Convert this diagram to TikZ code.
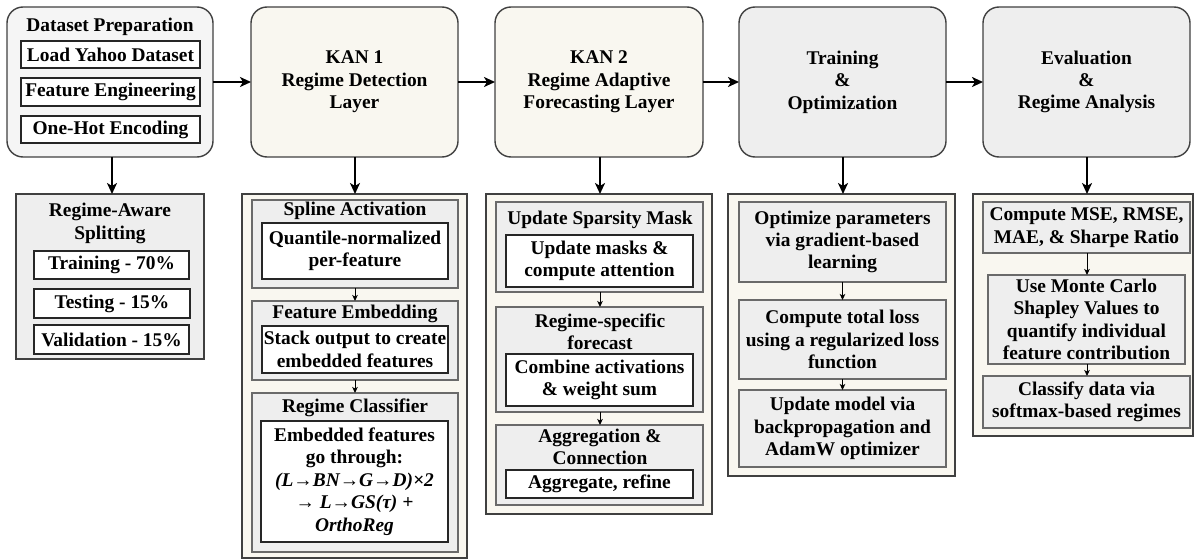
\documentclass[tikz,border=0pt]{standalone}
\usepackage{fontspec}
\setmainfont{Liberation Serif}
\usetikzlibrary{arrows.meta}
\definecolor{cream}{HTML}{F9F7F0}
\definecolor{lgray}{HTML}{EEEEEE}
\definecolor{pgray}{HTML}{F5F5F5}
\definecolor{dgray}{HTML}{404040}
\definecolor{mgray}{HTML}{6A6A6A}
\newcommand\bx[7]{\node[#2, minimum width={#5-#3}, minimum height={#6-#4}] (#1) at ({(#3+#5)/2},{(#4+#6)/2}) {#7};}
\tikzset{
  every node/.style={font=\bfseries\fontsize{19.4}{22.4}\selectfont, align=center, inner sep=0pt, outer sep=0pt},
  topbox/.style={draw=dgray, line width=1.4pt, rounded corners=16pt},
  cont/.style={draw=dgray, line width=1.8pt, fill=cream},
  subbox/.style={draw=mgray, line width=1.2pt, fill=lgray},
  wbox/.style={draw=black!85, line width=1.2pt, fill=white},
  bigarrow/.style={line width=2pt, -{Stealth[length=11pt,width=10pt,inset=3pt]}},
  smallarrow/.style={line width=1pt, -{Stealth[length=6pt,width=5.5pt,inset=1.5pt]}},
  txt/.style={}
}
\begin{document}
\begin{tikzpicture}[x=1pt,y=-1pt]
\useasboundingbox (0,0) rectangle (1194,559);
% ---------- top row
\bx{dp}{topbox,fill=pgray}{7}{7}{213}{157}{}
\node[txt] (dpt) at (110,27) {Dataset Preparation};
\bx{load}{wbox}{21}{41}{200}{68}{Load Yahoo Dataset}
\bx{feng}{wbox}{21}{78}{200}{106}{Feature Engineering}
\bx{ohe}{wbox}{21}{116}{200}{143}{One-Hot Encoding}

\bx{kan1}{topbox,fill=cream}{251}{7}{458}{157}{KAN 1\\Regime Detection\\Layer}
\bx{kan2}{topbox,fill=cream}{495}{7}{703}{157}{KAN 2\\Regime Adaptive\\Forecasting Layer}
\bx{train}{topbox,fill=lgray}{739}{7}{946}{157}{Training\\\&\\Optimization}
\bx{eval}{topbox,fill=lgray}{983}{7}{1190}{157}{Evaluation\\\&\\Regime Analysis}

\draw[bigarrow] (dp.east |- 0,82) -- (kan1.west |- 0,82);
\draw[bigarrow] (kan1.east |- 0,82) -- (kan2.west |- 0,82);
\draw[bigarrow] (kan2.east |- 0,82) -- (train.west |- 0,82);
\draw[bigarrow] (train.east |- 0,82) -- (eval.west |- 0,82);

% ---------- Regime-aware splitting
\bx{ras}{draw=dgray, line width=1.6pt, fill=lgray}{16}{194}{204}{359}{}
\node[txt] (rast) at (110,223.5) {Regime-Aware\\Splitting};
\bx{tr}{wbox}{34}{251}{189}{279}{Training - 70\%}
\bx{te}{wbox}{34}{289}{190}{318}{Testing - 15\%}
\bx{va}{wbox}{34}{325}{189}{354}{Validation - 15\%}
\draw[bigarrow] (dp.south -| 112,0) -- (ras.north -| 112,0);

% ---------- KAN 1 column
\bx{c1}{cont}{242}{194}{467}{558}{}
\draw[bigarrow] (kan1.south -| 355,0) -- (c1.north -| 355,0);
\bx{sa}{subbox}{252}{200}{458}{288}{}
\node[txt] (sat) at (355,211) {Spline Activation};
\bx{sai}{wbox}{262}{223}{448}{279}{Quantile-normalized\\per-feature}
\bx{fe}{subbox}{252}{301}{458}{380}{}
\node[txt] (fet) at (355,314) {Feature Embedding};
\bx{fei}{wbox}{262}{326}{448}{373}{Stack output to create\\embedded features}
\bx{rc}{subbox}{252}{393}{458}{552}{}
\node[txt] (rct) at (355,408) {Regime Classifier};
\bx{rci}{wbox}{261}{421}{448}{542}{Embedded features\\go through:\\\textit{(L→BN→G→D)×2}\\\textit{→ L→GS(τ) +}\\\textit{OrthoReg}}
\draw[smallarrow] (sa.south -| 355,0) -- (fe.north -| 355,0);
\draw[smallarrow] (fe.south -| 355,0) -- (rc.north -| 355,0);

% ---------- KAN 2 column
\bx{c2}{cont}{486}{194}{712}{514}{}
\draw[bigarrow] (kan2.south -| 600,0) -- (c2.north -| 600,0);
\bx{usm}{subbox}{496}{202}{703}{292}{}
\node[txt] (usmt) at (600,220) {Update Sparsity Mask};
\bx{usmi}{wbox}{506}{235}{693}{287}{Update masks \&\\compute attention}
\bx{rsf}{subbox}{496}{307}{703}{412}{}
\node[txt] (rsft) at (600,332) {Regime-specific\\forecast};
\bx{rsfi}{wbox}{506}{354}{693}{406}{Combine activations\\\& weight sum}
\bx{ac}{subbox}{496}{425}{703}{505}{}
\node[txt] (act) at (600,447) {Aggregation \&\\Connection};
\bx{aci}{wbox}{506}{470}{693}{498}{Aggregate, refine}
\draw[smallarrow] (usm.south -| 600,0) -- (rsf.north -| 600,0);
\draw[smallarrow] (rsf.south -| 600,0) -- (ac.north -| 600,0);

% ---------- Training column
\bx{c3}{cont}{728}{194}{955}{476}{}
\draw[bigarrow] (train.south -| 843,0) -- (c3.north -| 843,0);
\bx{opt}{subbox}{739}{202}{946}{282}{Optimize parameters\\via gradient-based\\learning}
\bx{ctl}{subbox}{739}{300}{946}{379}{Compute total loss\\using a regularized loss\\function}
\bx{upd}{subbox}{739}{390}{946}{467}{Update model via\\backpropagation and\\AdamW optimizer}
\draw[smallarrow] (opt) -- (ctl);
\draw[smallarrow] (ctl) -- (upd);

% ---------- Evaluation column
\bx{c4}{cont}{973}{194}{1193}{436}{}
\draw[bigarrow] (eval.south -| 1087,0) -- (c4.north -| 1087,0);
\bx{mse}{subbox}{983}{202}{1190}{253}{Compute MSE, RMSE,\\MAE, \& Sharpe Ratio}
\bx{mc}{subbox}{988}{275}{1185}{364}{Use Monte Carlo\\Shapley Values to\\quantify individual\\feature contribution}
\bx{cls}{subbox}{983}{376}{1190}{428}{Classify data via\\softmax-based regimes}
\draw[smallarrow] (mse.south -| 1087,0) -- (mc.north -| 1087,0);
\draw[smallarrow] (mc.south -| 1087,0) -- (cls.north -| 1087,0);
\end{tikzpicture}
\end{document}
